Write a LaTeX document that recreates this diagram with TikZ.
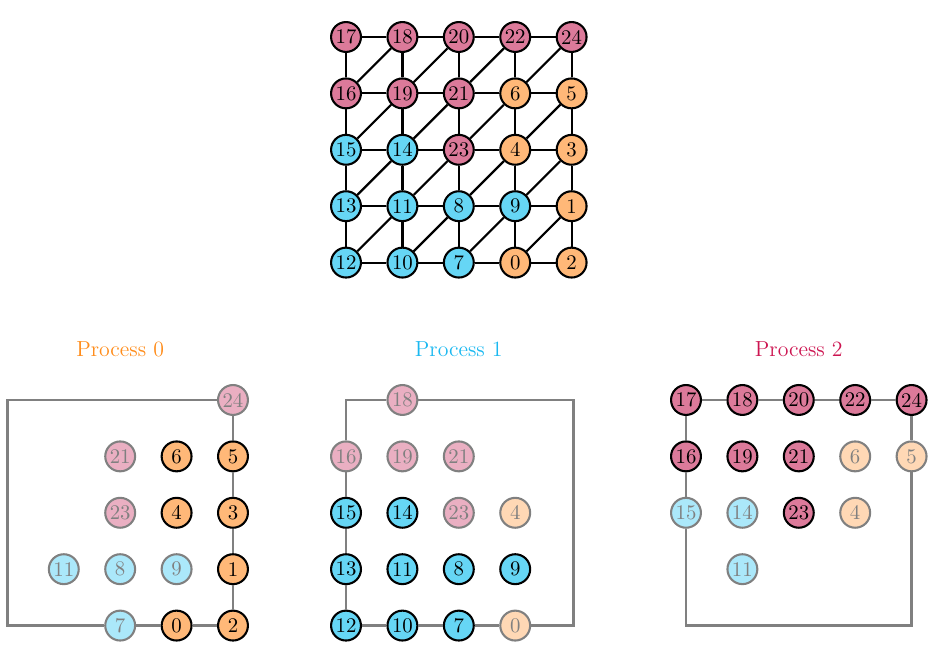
\documentclass[tikz,border=0pt]{standalone}
\usepackage{xcolor}
\usetikzlibrary{positioning, calc}
\definecolor{pinkc}{HTML}{DC7A9A}
\definecolor{bluec}{HTML}{66D6F5}
\definecolor{orangec}{HTML}{FFB878}
\definecolor{procA}{HTML}{FF8C1A}
\definecolor{procB}{HTML}{1AB8F0}
\definecolor{procC}{HTML}{CC1450}
\tikzset{
  vert/.style={circle, draw=black, line width=1.05pt, inner sep=0pt, minimum size=0.53cm,
    font=\fontsize{10.5}{12}\selectfont},
  pk/.style={vert, fill=pinkc},
  bl/.style={vert, fill=bluec},
  og/.style={vert, fill=orangec},
  ghost/.style={vert, draw=gray, text=gray},
  gpk/.style={ghost, fill=pinkc!60!white},
  gbl/.style={ghost, fill=bluec!55!white},
  gog/.style={ghost, fill=orangec!55!white},
  link/.style={line width=1.1pt, black},
  frame/.style={line width=1.2pt, gray},
  ptitle/.style={font=\fontsize{11}{13}\selectfont}
}

\begin{document}
\begin{tikzpicture}
    \useasboundingbox (0,0) rectangle (16.72,-11.525);

    % full mesh
    \begin{scope}[shift={(6.135,-0.656)}]
    \foreach \lab/\c/\r/\s in {17/0/0/pk, 18/1/0/pk, 20/2/0/pk, 22/3/0/pk, 24/4/0/pk,
        16/0/1/pk, 19/1/1/pk, 21/2/1/pk, 6/3/1/og, 5/4/1/og,
        15/0/2/bl, 14/1/2/bl, 23/2/2/pk, 4/3/2/og, 3/4/2/og,
        13/0/3/bl, 11/1/3/bl, 8/2/3/bl, 9/3/3/bl, 1/4/3/og,
        12/0/4/bl, 10/1/4/bl, 7/2/4/bl, 0/3/4/og, 2/4/4/og}
      \node[\s] (g\lab) at (\c,-\r) {\lab};
    \foreach \a/\b in {17/18, 18/20, 20/22, 22/24, 16/19, 19/21, 21/6, 6/5,
        15/14, 14/23, 23/4, 4/3, 13/11, 11/8, 8/9, 9/1, 12/10, 10/7, 7/0, 0/2,
        17/16, 16/15, 15/13, 13/12, 18/19, 19/14, 14/11, 11/10,
        20/21, 21/23, 23/8, 8/7, 22/6, 6/4, 4/9, 9/0, 24/5, 5/3, 3/1, 1/2,
        16/18, 19/20, 21/22, 6/24, 15/19, 14/21, 23/6, 4/5,
        13/14, 11/23, 8/4, 9/3, 12/11, 10/8, 7/9, 0/1}
      \draw[link] (g\a) -- (g\b);
    \end{scope}

    % process 0
    \begin{scope}[shift={(0.131,-7.092)}]
    \node[ptitle, text=procA] (ta) at (2,0.904) {Process 0};
    \foreach \lab/\c/\r/\s in {24/4/0/gpk, 21/2/1/gpk, 6/3/1/og, 5/4/1/og,
        23/2/2/gpk, 4/3/2/og, 3/4/2/og, 11/1/3/gbl, 8/2/3/gbl, 9/3/3/gbl, 1/4/3/og,
        7/2/4/gbl, 0/3/4/og, 2/4/4/og}
      \node[\s] (a\lab) at (\c,-\r) {\lab};
    \coordinate (a-nw) at (0,0);
    \coordinate (a-sw) at (0,-4);
    \draw[frame] (a24) -- (a-nw) -- (a-sw) -- (a7) -- (a0) -- (a2) -- (a1) -- (a3) -- (a5) -- (a24);
    \end{scope}

    % process 1
    \begin{scope}[shift={(6.135,-7.092)}]
    \node[ptitle, text=procB] (tb) at (2,0.904) {Process 1};
    \foreach \lab/\c/\r/\s in {18/1/0/gpk, 16/0/1/gpk, 19/1/1/gpk, 21/2/1/gpk,
        15/0/2/bl, 14/1/2/bl, 23/2/2/gpk, 4/3/2/gog,
        13/0/3/bl, 11/1/3/bl, 8/2/3/bl, 9/3/3/bl,
        12/0/4/bl, 10/1/4/bl, 7/2/4/bl, 0/3/4/gog}
      \node[\s] (b\lab) at (\c,-\r) {\lab};
    \coordinate (b-nw) at (0,0);
    \coordinate (b-ne) at (4.03,0);
    \coordinate (b-se) at (4.03,-4);
    \draw[frame] (b18) -- (b-nw) -- (b16) -- (b15) -- (b13) -- (b12) -- (b10) -- (b7) -- (b0) -- (b-se) -- (b-ne) -- (b18);
    \end{scope}

    % process 2
    \begin{scope}[shift={(12.163,-7.092)}]
    \node[ptitle, text=procC] (tc) at (2,0.904) {Process 2};
    \foreach \lab/\c/\r/\s in {17/0/0/pk, 18/1/0/pk, 20/2/0/pk, 22/3/0/pk, 24/4/0/pk,
        16/0/1/pk, 19/1/1/pk, 21/2/1/pk, 6/3/1/gog, 5/4/1/gog,
        15/0/2/gbl, 14/1/2/gbl, 23/2/2/pk, 4/3/2/gog, 11/1/3/gbl}
      \node[\s] (c\lab) at (\c,-\r) {\lab};
    \coordinate (c-sw) at (0,-4);
    \coordinate (c-se) at (4,-4);
    \draw[frame] (c17) -- (c18) -- (c20) -- (c22) -- (c24) -- (c5) -- (c-se) -- (c-sw) -- (c15) -- (c16) -- (c17);
    \end{scope}
\end{tikzpicture}
\end{document}
